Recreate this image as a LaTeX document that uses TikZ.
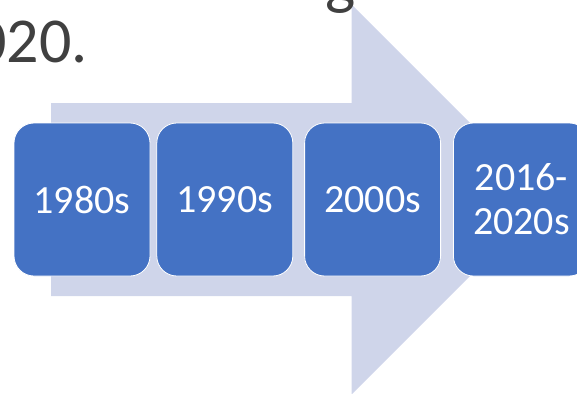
\documentclass[tikz,border=0pt]{standalone}
\usepackage{fontspec}
\setmainfont{Carlito}
\usetikzlibrary{positioning}
\definecolor{decadeblue}{HTML}{4472C4}
\definecolor{arrowblue}{HTML}{CFD5EA}
\definecolor{titlegrey}{HTML}{404040}

\begin{document}
\begin{tikzpicture}[
    x=1pt, y=-1pt,
    node distance=7pt,
    decade/.style={rectangle, rounded corners=20pt, draw=white, line width=0.8pt,
        fill=decadeblue, text=white, minimum width=136pt, minimum height=153pt,
        align=center, inner sep=0pt, font=\fontsize{40}{44}\selectfont},
    heading/.style={text=titlegrey, inner sep=0pt, font=\fontsize{64}{72}\selectfont},
]
\useasboundingbox (0,0) rectangle (577,393);
\clip (0,0) rectangle (577,393);

% background arrow
\fill[arrowblue] (51,103) -- (351.5,103) -- (351.5,4.5) -- (546.5,199.5)
    -- (351.5,394.5) -- (351.5,296) -- (51,296) -- cycle;

\node[heading, anchor=base west] (tail) at (-26,63) {020.};
\node[heading, anchor=base west] (prev) at (325,3) {g};

\node[decade] (y1980) at (82,199.5) {1980s};
\node[decade, right=6pt of y1980] (y1990) {1990s};
\node[decade, right=11pt of y1990] (y2000) {2000s};
\node[decade, right=12pt of y2000] (y2016) {2016-\\2020s};
\end{tikzpicture}
\end{document}
